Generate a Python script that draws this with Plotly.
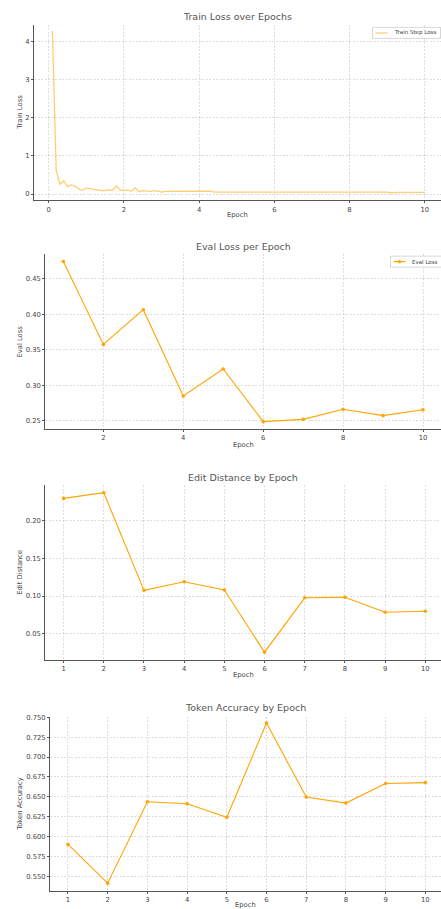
import plotly.graph_objects as go

# ---- data ----
train_epoch = [round(0.1 * i, 1) for i in range(1, 101)]
train_loss = [
    4.27, 0.62, 0.25, 0.35, 0.20, 0.24, 0.21, 0.13, 0.10, 0.16,
    0.14, 0.12, 0.10, 0.09, 0.09, 0.11, 0.10, 0.21, 0.11, 0.09,
    0.11, 0.08, 0.16, 0.06, 0.09, 0.07, 0.07, 0.09, 0.08, 0.05,
    0.07, 0.07, 0.07, 0.065, 0.065, 0.065, 0.065, 0.065, 0.065, 0.06,
    0.065, 0.07, 0.075, 0.05, 0.05, 0.05, 0.055, 0.05, 0.05, 0.05,
    0.05, 0.055, 0.05, 0.05, 0.05, 0.05, 0.05, 0.05, 0.05, 0.05,
    0.05, 0.05, 0.05, 0.05, 0.05, 0.05, 0.05, 0.055, 0.05, 0.05,
    0.05, 0.05, 0.05, 0.05, 0.05, 0.05, 0.05, 0.05, 0.05, 0.05,
    0.05, 0.05, 0.05, 0.05, 0.05, 0.05, 0.05, 0.05, 0.05, 0.05,
    0.035, 0.045, 0.045, 0.045, 0.045, 0.045, 0.045, 0.045, 0.045, 0.045,
]

epochs = [1, 2, 3, 4, 5, 6, 7, 8, 9, 10]
eval_loss = [0.4744, 0.3576, 0.4065, 0.2851, 0.3230, 0.2490, 0.2522, 0.2663, 0.2574, 0.2658]
edit_distance = [0.2301, 0.2377, 0.1076, 0.1190, 0.1080, 0.0253, 0.0977, 0.0983, 0.0784, 0.0797]
token_accuracy = [0.5900, 0.5412, 0.6437, 0.6412, 0.6241, 0.7430, 0.6496, 0.6421, 0.6667, 0.6679]

W, H = 441, 909
ORANGE = "#FFA500"
TRAIN_COLOR = "rgba(255,165,0,0.55)"
TEXT = "#444444"
SPINE = "#555555"
GRID = "rgba(0,0,0,0.13)"
FONT = "DejaVu Sans"


def px_x(p):
    return p / W


def px_y(p):
    return 1 - p / H


fig = go.Figure()

fig.add_trace(go.Scatter(
    x=train_epoch, y=train_loss, mode="lines", name="Train Step Loss",
    line=dict(color=TRAIN_COLOR, width=1.3),
    xaxis="x", yaxis="y", showlegend=False,
))
for k, (vals, nm) in enumerate(
        [(eval_loss, "Eval Loss"), (edit_distance, "Edit Distance"), (token_accuracy, "Token Accuracy")],
        start=2):
    fig.add_trace(go.Scatter(
        x=epochs, y=vals, mode="lines+markers", name=nm,
        line=dict(color=ORANGE, width=1.1), marker=dict(size=3.6, color=ORANGE),
        xaxis="x%d" % k, yaxis="y%d" % k, showlegend=False,
    ))

# panel geometry: (left, top, bottom) in pixels, axis ranges, ticks
panels = [
    dict(left=34, top=22, bottom=198, xr=[-0.39, 10.433], yr=[-0.164, 4.425],
         xt=[0, 2, 4, 6, 8, 10], yt=[0, 1, 2, 3, 4], yfmt="d",
         title="Train Loss over Epochs", ytitle="Train Loss", ttl_y=14, xt_y=213, yt_x=20),
    dict(left=45.3, top=251.7, bottom=427.7, xr=[0.548, 10.45], yr=[0.2382, 0.4851],
         xt=[2, 4, 6, 8, 10], yt=[0.25, 0.30, 0.35, 0.40, 0.45], yfmt=".2f",
         title="Eval Loss per Epoch", ytitle="Eval Loss", ttl_y=244, xt_y=443, yt_x=20),
    dict(left=45.3, top=484, bottom=659.3, xr=[0.545, 10.39], yr=[0.0147, 0.2474],
         xt=epochs, yt=[0.05, 0.10, 0.15, 0.20], yfmt=".2f",
         title="Edit Distance by Epoch", ytitle="Edit Distance", ttl_y=476, xt_y=674, yt_x=20),
    dict(left=50, top=716, bottom=891, xr=[0.547, 10.395], yr=[0.5312, 0.751],
         xt=epochs, yt=[0.550, 0.575, 0.600, 0.625, 0.650, 0.675, 0.700, 0.725, 0.750], yfmt=".3f",
         title="Token Accuracy by Epoch", ytitle="Token Accuracy", ttl_y=707, xt_y=905, yt_x=20),
]

annotations = []
shapes = []
for i, p in enumerate(panels, start=1):
    sx = "" if i == 1 else str(i)
    common = dict(
        showgrid=True, gridcolor=GRID, griddash="2px,1.5px", gridwidth=1,
        showline=True, linecolor=SPINE, linewidth=1, zeroline=False,
        ticks="outside", ticklen=2, tickcolor=SPINE, tickwidth=1,
        tickfont=dict(family=FONT, size=6.8, color=TEXT),
    )
    fig.layout["xaxis" + sx] = dict(
        domain=[px_x(p["left"]), 1.0], range=p["xr"], anchor="y" + sx,
        tickvals=p["xt"], **common,
    )
    fig.layout["yaxis" + sx] = dict(
        domain=[px_y(p["bottom"]), px_y(p["top"])], range=p["yr"], anchor="x" + sx,
        tickvals=p["yt"], tickformat=p["yfmt"], **common,
    )
    cx = (p["left"] + W) / 2
    annotations.append(dict(
        text=p["title"], x=px_x(cx), y=px_y(p["ttl_y"]), xref="paper", yref="paper",
        showarrow=False, xanchor="center", yanchor="middle",
        font=dict(family=FONT, size=9.5, color="#555555"),
    ))
    annotations.append(dict(
        text="Epoch", x=px_x(cx), y=px_y(p["xt_y"]), xref="paper", yref="paper",
        showarrow=False, xanchor="center", yanchor="middle",
        font=dict(family=FONT, size=6.8, color=TEXT),
    ))
    cy = (p["top"] + p["bottom"]) / 2
    annotations.append(dict(
        text=p["ytitle"], x=px_x(p["yt_x"]), y=px_y(cy), xref="paper", yref="paper",
        showarrow=False, xanchor="center", yanchor="middle", textangle=-90,
        font=dict(family=FONT, size=6.8, color=TEXT),
    ))


def add_legend(box, label, color, marker):
    """Small framed key in the upper-right corner of a panel."""
    x0, y0, x1, y1 = box
    shapes.append(dict(type="rect", xref="paper", yref="paper",
                       x0=px_x(x0), x1=px_x(x1), y0=px_y(y1), y1=px_y(y0),
                       line=dict(color="rgba(0,0,0,0.2)", width=0.8), fillcolor="white"))
    ym = (y0 + y1) / 2
    shapes.append(dict(type="line", xref="paper", yref="paper",
                       x0=px_x(x0 + 3), x1=px_x(x0 + 15), y0=px_y(ym), y1=px_y(ym),
                       line=dict(color=color, width=1.2)))
    if marker:
        mx = x0 + 9
        shapes.append(dict(type="circle", xref="paper", yref="paper",
                           x0=px_x(mx - 1.6), x1=px_x(mx + 1.6), y0=px_y(ym + 1.6), y1=px_y(ym - 1.6),
                           line=dict(color=color, width=0), fillcolor=color))
    annotations.append(dict(
        text=label, x=px_x(x0 + 19), y=px_y(ym), xref="paper", yref="paper",
        showarrow=False, xanchor="left", yanchor="middle",
        font=dict(family=FONT, size=5.5, color=TEXT),
    ))


add_legend((372.5, 24.5, 440.5, 35.5), "Train Step Loss", TRAIN_COLOR, False)
add_legend((390.5, 254, 441.5, 265), "Eval Loss", ORANGE, True)

fig.update_layout(
    width=W, height=H, margin=dict(l=0, r=0, t=0, b=0),
    paper_bgcolor="white", plot_bgcolor="white",
    annotations=annotations, shapes=shapes,
    showlegend=False,
)

fig.write_html("out.html")
